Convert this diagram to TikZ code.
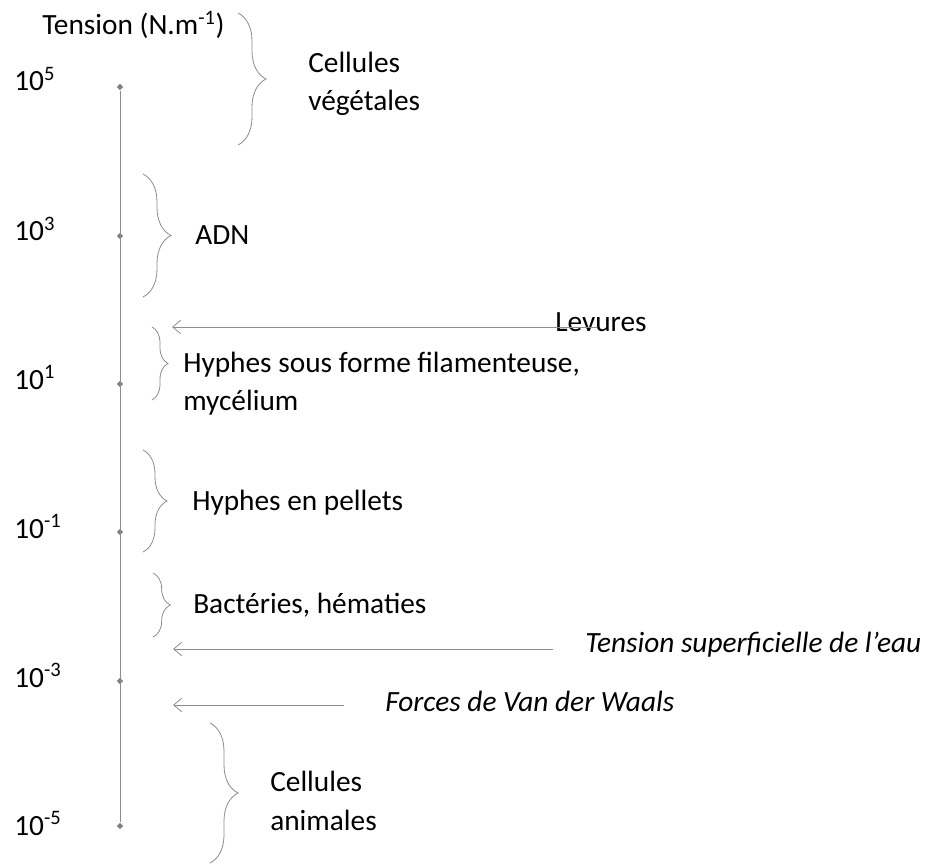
\documentclass[tikz,border=0pt]{standalone}
\usepackage{fontspec}
\setmainfont{Carlito}
\usetikzlibrary{decorations.pathreplacing, arrows.meta, shapes.geometric}

\begin{document}
\begin{tikzpicture}[x=0.75pt, y=-0.75pt, >={Straight Barb[length=6pt, width=10pt]}]
    % 1. Frame and styles
    \useasboundingbox (0,0) rectangle (932,866);
    \definecolor{axisgray}{RGB}{140,140,140}
    \tikzset{
        label/.style={anchor=base west, inner sep=0pt, font=\fontsize{22}{29}\selectfont, align=left},
        tick/.style={diamond, fill=axisgray!90!black, inner sep=0pt, minimum size=5pt},
        bracket/.style={draw=axisgray, semithick, decorate, decoration={brace, amplitude=21pt, aspect=0.5}},
        pointer/.style={draw=axisgray, semithick, ->}
    }

    % 2. Axis with its ticks
    \node[tick] (t5)  at (120, 87)  {};
    \node[tick] (t3)  at (120, 236) {};
    \node[tick] (t1)  at (120, 384) {};
    \node[tick] (tm1) at (120, 532) {};
    \node[tick] (tm3) at (120, 681) {};
    \node[tick] (tm5) at (120, 826) {};
    \draw[axisgray, semithick] (t5) -- (tm5);

    % Axis labels
    \node[label] (title) at (42, 35) {Tension (N.m\textsuperscript{-1})};
    \node[label] (l5)  at (14, 91)  {10\textsuperscript{5}};
    \node[label] (l3)  at (14, 241) {10\textsuperscript{3}};
    \node[label] (l1)  at (14, 389) {10\textsuperscript{1}};
    \node[label] (lm1) at (14, 538) {10\textsuperscript{-1}};
    \node[label] (lm3) at (14, 687) {10\textsuperscript{-3}};
    \node[label] (lm5) at (14, 835) {10\textsuperscript{-5}};

    % 3. Braces and what they span
    \draw[bracket] (238, 13)  -- (238, 145);
    \draw[bracket] (143, 174) -- (143, 297);
    \draw[bracket, decoration={amplitude=12pt}] (152, 327) -- (152, 400);
    \draw[bracket, decoration={amplitude=18pt}] (143, 450) -- (143, 552);
    \draw[bracket, decoration={amplitude=13pt}] (153, 573) -- (153, 637);
    \draw[bracket] (210, 723) -- (210, 863);

    % multi-line labels sit on the baseline of their last line
    \node[label] (vegetal) at (308, 111) {Cellules\\végétales};
    \node[label] (adn)     at (195, 245) {ADN};
    \node[label] (hyphe)   at (183, 411) {Hyphes sous forme filamenteuse,\\mycélium};
    \node[label] (pellet)  at (192, 510) {Hyphes en pellets};
    \node[label] (bact)    at (193, 613) {Bactéries, hématies};
    \node[label] (animal)  at (270, 830) {Cellules\\animales};

    % 4. Arrows pointing at the axis
    \node[label] (levure)  at (555, 332) {Levures};
    \node[label] (eau)     at (585, 652) {\itshape Tension superficielle de l’eau};
    \node[label] (waals)   at (385, 711) {\itshape Forces de Van der Waals};

    \coordinate (A) at (597, 327);
    \coordinate (A') at (172, 327);
    \coordinate (B) at (553, 649);
    \coordinate (B') at (173, 649);
    \coordinate (C) at (344, 705);
    \coordinate (C') at (173, 705);
    \draw[pointer] (A) -- (A');
    \draw[pointer] (B) -- (B');
    \draw[pointer] (C) -- (C');

\end{tikzpicture}
\end{document}
